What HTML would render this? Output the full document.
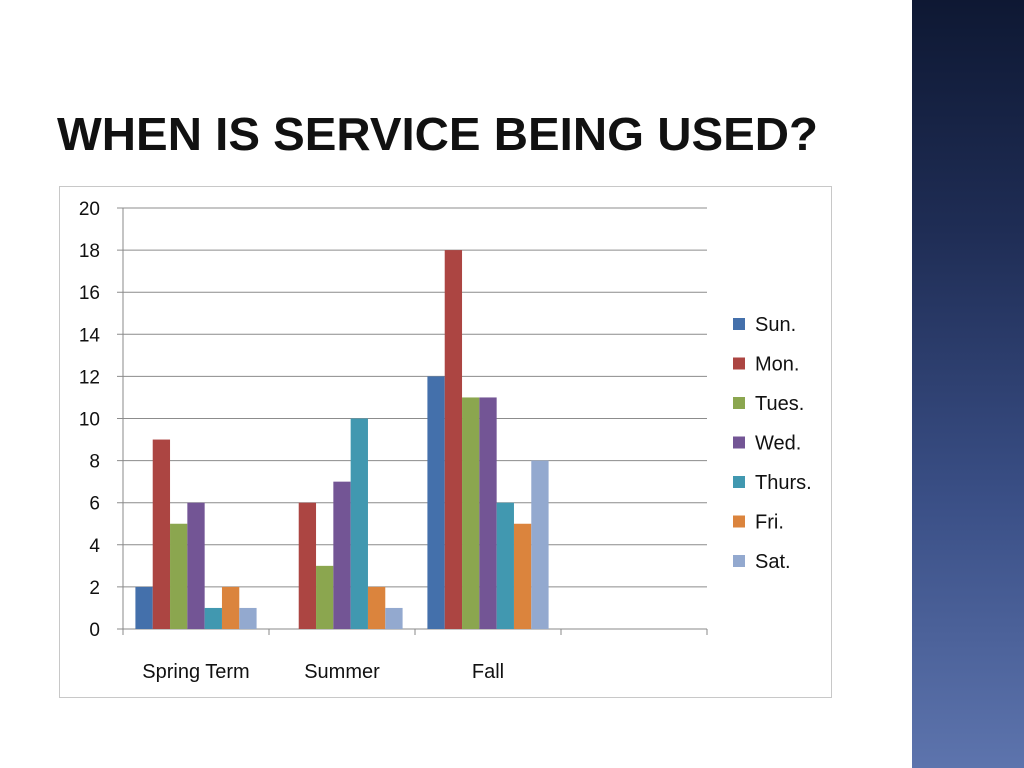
<!DOCTYPE html>
<html><head><meta charset="utf-8"><style>
html,body{margin:0;padding:0;width:1024px;height:768px;overflow:hidden;background:#fff;font-family:"Liberation Sans",sans-serif}
#side{position:absolute;left:912px;top:0;width:112px;height:768px;background:linear-gradient(#0e1833 0%,#1f2d55 30%,#3a4f86 65%,#5d74ad 100%)}
</style></head><body>
<div id="side"></div>
<svg width="1024" height="768" style="position:absolute;left:0;top:0">
<text x="57" y="150" font-size="46" font-weight="bold" fill="#111" textLength="761" lengthAdjust="spacingAndGlyphs">WHEN IS SERVICE BEING USED?</text>
<rect x="59.5" y="186.5" width="772" height="511" fill="#fff" stroke="#c8c8c8"/>
<g id="chart"></g>
</svg>
<script>
const categories=["Spring Term","Summer","Fall",""];
const series=["Sun.","Mon.","Tues.","Wed.","Thurs.","Fri.","Sat."];
const colors=["#4470ab","#ac4542","#8ba64f","#735595","#4198b0","#db843d","#93a9cf"];
const sun=[2,0,12,0];
const mon=[9,6,18,0];
const tues=[5,3,11,0];
const wed=[6,7,11,0];
const thurs=[1,10,6,0];
const fri=[2,2,5,0];
const sat=[1,1,8,0];
const yTicks=[0,2,4,6,8,10,12,14,16,18,20];
const values=[sun,mon,tues,wed,thurs,fri,sat];
const NS="http://www.w3.org/2000/svg";
const g=document.getElementById('chart');
const x0=123,x1=707,yTop=208,yBot=629,yMax=20;
const slot=(x1-x0)/categories.length;
const y=v=>yBot-(yBot-yTop)*v/yMax;
function mk(t,a){const e=document.createElementNS(NS,t);for(const k in a)e.setAttribute(k,a[k]);g.appendChild(e);return e;}
yTicks.forEach(t=>{
 const l=mk('line',{x1:x0-6,x2:x1,y1:y(t),y2:y(t),stroke:t===0?'#888':'#8c8c8c','stroke-width':1});
 
 
 const tx=mk('text',{x:100,y:y(t)+7,'text-anchor':'end','font-size':19,fill:'#111'});
 tx.textContent=t;
 
 
});
const ax=mk('line',{x1:x0,x2:x0,y1:yTop,y2:yBot+6,stroke:'#888'});


for(let i=0;i<=categories.length;i++){
 const tk=mk('line',{x1:x0+i*slot,x2:x0+i*slot,y1:yBot,y2:yBot+6,stroke:'#888'});
 
 
}
const bw=slot*0.83/series.length, pad=(slot-bw*series.length)/2;
categories.forEach((c,ci)=>{
 series.forEach((s,si)=>{
  const v=values[si][ci]; if(!v) return;
  const r=mk('rect',{x:x0+ci*slot+pad+si*bw,y:y(v),width:bw,height:yBot-y(v),fill:colors[si]});
  
  
 });
 const t=mk('text',{x:x0+ci*slot+slot/2,y:678,'text-anchor':'middle','font-size':20,fill:'#111'});
 t.textContent=c;
 
 
});
series.forEach((s,si)=>{
 const yy=324+si*39.5;
 const r=mk('rect',{x:733,y:yy-6,width:12,height:12,fill:colors[si]});
 
 
 const t=mk('text',{x:755,y:yy+7,'font-size':20,fill:'#111'});
 t.textContent=s;
 
 
});
</script>
</body></html>
